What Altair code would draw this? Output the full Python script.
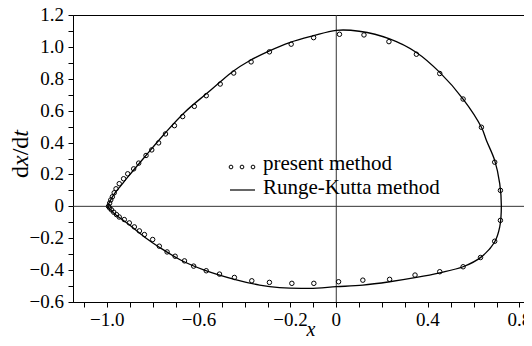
import altair as alt
import pandas as pd

# Runge-Kutta solution (solid line), ordered around the closed orbit
rk_x = [-0.999, -0.992, -0.969, -0.940, -0.911, -0.838, -0.751, -0.663, -0.561, -0.510, -0.452,
        -0.379, -0.292, -0.204, -0.102, 0.000, 0.100, 0.233, 0.350, 0.452, 0.554,
        0.634, 0.656, 0.692, 0.714, 0.721, 0.714, 0.692, 0.634, 0.554, 0.452,
        0.350, 0.233, 0.116, 0.000, -0.117, -0.248, -0.335, -0.445, -0.576, -0.678,
        -0.765, -0.838, -0.911, -0.969, -0.992, -0.999]
rk_y = [0.000, 0.022, 0.079, 0.131, 0.183, 0.308, 0.454, 0.589, 0.714, 0.777, 0.846,
        0.913, 0.975, 1.027, 1.069, 1.104, 1.098, 1.050, 0.965, 0.840, 0.673,
        0.496, 0.413, 0.288, 0.142, 0.000, -0.129, -0.223, -0.317, -0.379, -0.417,
        -0.446, -0.473, -0.494, -0.504, -0.514, -0.510, -0.494, -0.458, -0.400, -0.338,
        -0.264, -0.192, -0.108, -0.046, -0.012, 0.000]

# present method (open circles)
pm_x = [-0.995, -0.990, -0.985, -0.978, -0.970, -0.962, -0.948, -0.929, -0.911, -0.885,
        -0.863, -0.831, -0.806, -0.776, -0.746, -0.707, -0.671, -0.620, -0.568, -0.507,
        -0.448, -0.372, -0.292, -0.197, -0.099, 0.014, 0.121, 0.230, 0.350, 0.452,
        0.554, 0.634, 0.692, 0.717, 0.717, 0.692, 0.630, 0.554, 0.452, 0.344,
        0.233, 0.116, 0.010, -0.098, -0.194, -0.292, -0.369, -0.445, -0.510, -0.568,
        -0.623, -0.663, -0.704, -0.739, -0.773, -0.802, -0.838, -0.860, -0.882, -0.904,
        -0.926, -0.948, -0.960, -0.972, -0.982, -0.990]
pm_y = [0.000, 0.020, 0.040, 0.060, 0.085, 0.110, 0.142, 0.173, 0.204, 0.235,
        0.271, 0.319, 0.354, 0.398, 0.454, 0.506, 0.563, 0.627, 0.694, 0.767,
        0.836, 0.906, 0.969, 1.017, 1.058, 1.079, 1.075, 1.033, 0.954, 0.833,
        0.673, 0.496, 0.277, 0.100, -0.088, -0.219, -0.321, -0.379, -0.410, -0.431,
        -0.458, -0.463, -0.473, -0.483, -0.483, -0.477, -0.467, -0.446, -0.425, -0.404,
        -0.375, -0.342, -0.313, -0.286, -0.250, -0.208, -0.177, -0.154, -0.129, -0.104,
        -0.083, -0.067, -0.052, -0.037, -0.022, -0.010]

# ticks and tick labels
x_ticks = [round(-1.1 + 0.1 * i, 1) for i in range(20)]
y_ticks = [round(-0.6 + 0.1 * i, 1) for i in range(19)]
x_labels = [-1.0, -0.6, -0.2, 0, 0.4, 0.8]
y_labels = [-0.6, -0.4, -0.2, 0, 0.2, 0.4, 0.6, 0.8, 1.0, 1.2]

legend_labels = ["present method", "Runge-Kutta method"]

SERIF = "Liberation Serif"


def fmt(v):
    return "0" if v == 0 else f"{v:.1f}".replace("-", "\u2212")


line_df = pd.DataFrame({"x": rk_x, "y": rk_y, "i": list(range(len(rk_x)))})
pts_df = pd.DataFrame({"x": pm_x, "y": pm_y})
xlab_df = pd.DataFrame({"x": x_labels, "t": [fmt(v) for v in x_labels]})
ylab_df = pd.DataFrame({"y": y_labels, "t": [fmt(v) for v in y_labels]})
one = pd.DataFrame({"a": [0]})

xs = alt.Scale(domain=[-1.15, 0.82], nice=False, zero=False)
ys = alt.Scale(domain=[-0.6, 1.2], nice=False, zero=False)

common_axis = dict(
    grid=False, title=None, labels=False,
    tickSize=5, tickColor="black", tickWidth=1, domainColor="black", domainWidth=1,
)
X = alt.X("x:Q", scale=xs, axis=alt.Axis(values=x_ticks, **common_axis))
Y = alt.Y("y:Q", scale=ys, axis=alt.Axis(values=y_ticks, **common_axis))

vrule = alt.Chart(pd.DataFrame({"x": [0]})).mark_rule(color="#333", strokeWidth=1).encode(x=X)
hrule = alt.Chart(pd.DataFrame({"y": [0]})).mark_rule(color="#333", strokeWidth=1).encode(y=Y)

line = alt.Chart(line_df).mark_line(color="black", strokeWidth=1.3, interpolate="catmull-rom").encode(
    x=X, y=Y, order="i:Q"
)
pts = alt.Chart(pts_df).mark_point(shape="circle", filled=False, color="black", size=20, strokeWidth=1, opacity=1).encode(
    x=X, y=Y
)

# tick labels (serif)
xlab = alt.Chart(xlab_df).mark_text(font=SERIF, fontSize=19, align="center", baseline="alphabetic", color="black").encode(
    x=X, y=alt.value(311), text="t:N")
ylab = alt.Chart(ylab_df).mark_text(font=SERIF, fontSize=19, align="right", baseline="middle", color="black").encode(
    y=Y, x=alt.value(-9), text="t:N")

layers = [vrule, hrule, line, pts, xlab, ylab]

# legend (inside the plot)
for lx in [158, 169, 180]:
    layers.append(alt.Chart(one).mark_point(shape="circle", filled=False, color="black", size=14, strokeWidth=1, opacity=1).encode(
        x=alt.value(lx), y=alt.value(152)))
layers.append(alt.Chart(one).mark_rule(color="black", strokeWidth=1.2).encode(
    x=alt.value(157), x2=alt.value(182), y=alt.value(175)))
layers.append(alt.Chart(one).mark_text(font=SERIF, fontSize=21, align="left", baseline="alphabetic", color="black").encode(
    x=alt.value(190), y=alt.value(155), text=alt.value(legend_labels[0])))
layers.append(alt.Chart(one).mark_text(font=SERIF, fontSize=21, align="left", baseline="alphabetic", color="black").encode(
    x=alt.value(190), y=alt.value(179), text=alt.value(legend_labels[1])))

# axis titles
layers.append(alt.Chart(one).mark_text(font=SERIF, fontSize=20, fontStyle="italic", align="center", baseline="alphabetic", color="black").encode(
    x=alt.value(238), y=alt.value(321), text=alt.value("x")))
ytitle = [("d", "normal", 163), ("x", "italic", 151), ("/", "normal", 140.3), ("d", "normal", 133.7), ("t", "italic", 121.7)]
for txt, style, yy in ytitle:
    layers.append(alt.Chart(one).mark_text(font=SERIF, fontSize=24, fontStyle=style, align="left", baseline="alphabetic", angle=270, color="black").encode(
        x=alt.value(-45), y=alt.value(yy), text=alt.value(txt)))

chart = alt.layer(*layers).properties(
    width=451, height=287,
    autosize=alt.AutoSizeParams(type="none"),
    padding={"left": 65, "top": 7, "right": 0, "bottom": 36},
).configure_view(stroke="black", strokeWidth=1)

chart.save("out.html", embed_options={"renderer": "svg", "actions": False})
